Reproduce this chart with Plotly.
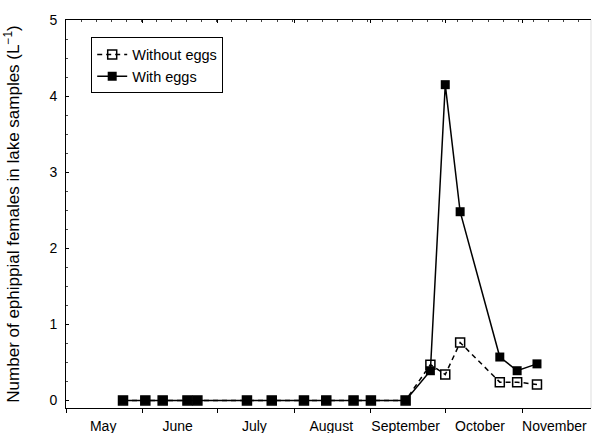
import plotly.graph_objects as go

# ---- data ----
dates = ["2005-05-24", "2005-06-02", "2005-06-09", "2005-06-19", "2005-06-23",
         "2005-07-13", "2005-07-23", "2005-08-05", "2005-08-14", "2005-08-25",
         "2005-09-01", "2005-09-15", "2005-09-25", "2005-10-01", "2005-10-07",
         "2005-10-23", "2005-10-30", "2005-11-07"]
without_eggs = [0, 0, 0, 0, 0, 0, 0, 0, 0, 0, 0, 0, 0.47, 0.34, 0.76, 0.24, 0.24, 0.21]
with_eggs = [0, 0, 0, 0, 0, 0, 0, 0, 0, 0, 0, 0, 0.39, 4.15, 2.48, 0.57, 0.39, 0.48]
series_names = ["Without eggs", "With eggs"]
month_labels = ["May", "June", "July", "August", "September", "October", "November"]
month_label_dates = ["2005-05-16", "2005-06-15", "2005-07-16", "2005-08-16",
                     "2005-09-15", "2005-10-15", "2005-11-14"]
y_title = "Number of ephippial females in lake samples (L<sup>−1</sup>)"
x_range = ["2005-05-01", "2005-11-28 19:00"]
y_range = [-0.1, 5]

FONT = "Arial, Liberation Sans, Helvetica, sans-serif"

fig = go.Figure()
fig.add_trace(go.Scatter(
    x=dates, y=without_eggs, name=series_names[0], mode="lines+markers",
    line=dict(color="black", width=1.5, dash="5px,4px"),
    marker=dict(symbol="square-open", size=9, color="black", line=dict(width=1.5)),
))
fig.add_trace(go.Scatter(
    x=dates, y=with_eggs, name=series_names[1], mode="lines+markers",
    line=dict(color="black", width=1.5),
    marker=dict(symbol="square", size=9, color="black"),
))
# invisible traces anchoring the top frame axis and the month-label axis
for ax in ("x2", "x3"):
    fig.add_trace(go.Scatter(
        x=dates, y=with_eggs, xaxis=ax, mode="markers", showlegend=False,
        marker=dict(opacity=0), hoverinfo="skip",
    ))

fig.update_layout(
    width=593, height=433,
    margin=dict(l=66, r=2, t=20, b=25, autoexpand=False),
    paper_bgcolor="white", plot_bgcolor="white",
    font=dict(family=FONT, size=14, color="black"),
    showlegend=True,
    legend=dict(
        x=0.048, y=0.955, xanchor="left", yanchor="top",
        bordercolor="black", borderwidth=1, bgcolor="white",
        font=dict(size=14.5, family=FONT), tracegroupgap=0,
    ),
    xaxis=dict(
        type="date", range=x_range, dtick="M1", tick0="2005-05-01",
        showticklabels=False, automargin=False,
        ticks="outside", ticklen=4, tickcolor="black", tickwidth=1,
        showline=True, linecolor="black", linewidth=1,
        showgrid=False, zeroline=False,
    ),
    xaxis3=dict(
        type="date", range=x_range, overlaying="x", side="bottom", anchor="y",
        tickmode="array", tickvals=month_label_dates, ticktext=month_labels,
        ticks="", showline=False, showgrid=False, zeroline=False,
        automargin=False, ticklabelstandoff=8,
        tickfont=dict(size=14, family=FONT),
    ),
    xaxis2=dict(
        type="date", range=x_range, overlaying="x", side="top",
        dtick="M1", tick0="2005-05-01", automargin=False,
        ticks="inside", ticklen=3, tickcolor="black",
        minor=dict(ticks="inside", ticklen=2, dtick=6.08 * 86400000,
                   tick0="2005-05-01", tickcolor="#444"),
        showticklabels=False, showline=True, linecolor="black", linewidth=1,
        showgrid=False, zeroline=False,
    ),
    yaxis=dict(
        range=y_range, dtick=1, tick0=0, automargin=False,
        ticks="inside", ticklen=3, tickcolor="black",
        minor=dict(ticks="inside", ticklen=2, dtick=0.25, tickcolor="#444"),
        showline=True, linecolor="black", linewidth=1,
        showgrid=False, zeroline=False,
        ticklabelstandoff=5,
        tickfont=dict(size=14, family=FONT),
        title=dict(text=y_title, font=dict(size=17, family=FONT), standoff=25),
    ),
    shapes=[dict(type="line", xref="paper", yref="paper", x0=1, x1=1, y0=0, y1=1,
                 line=dict(color="#dddddd", width=1))],
)

fig.write_html("out.html")
